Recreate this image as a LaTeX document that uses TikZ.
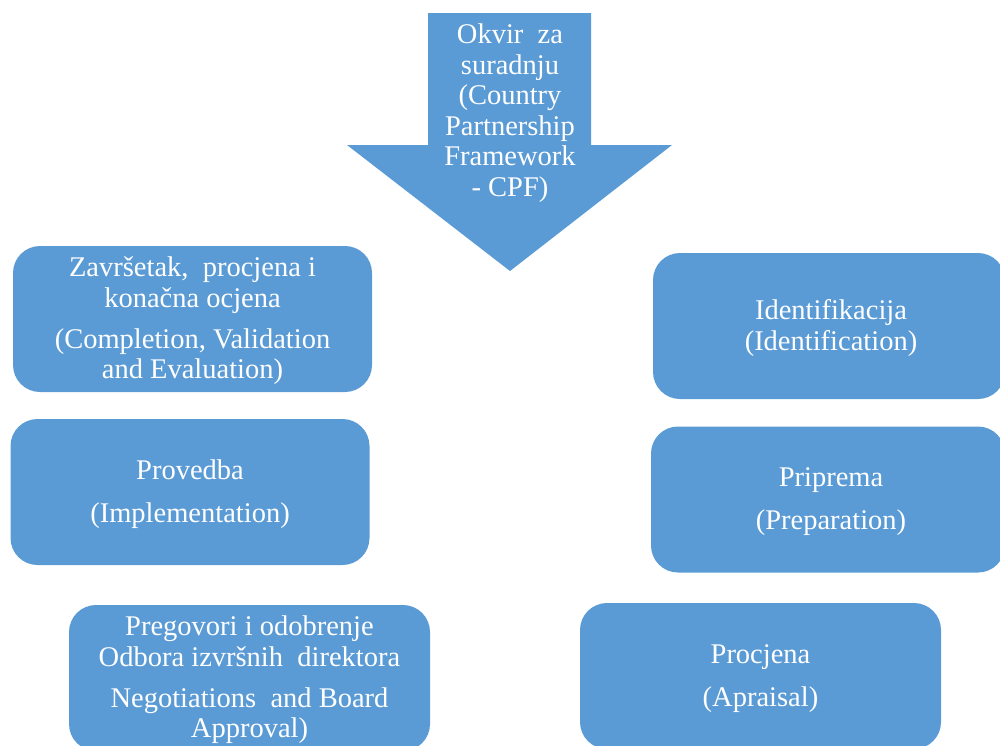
\documentclass[tikz,border=0pt]{standalone}
\usepackage{fontspec}
\setmainfont{Liberation Serif}
\definecolor{boxblue}{HTML}{5B9BD5}
\begin{document}
\begin{tikzpicture}[x=1pt,y=-1pt,
  phase/.style={fill=boxblue, draw=none, rounded corners=27pt, rectangle,
    minimum width=359pt, minimum height=146pt, inner sep=0pt},
  lbl/.style={text=white, align=center, inner sep=0pt,
    font=\fontsize{28.5}{30.5}\selectfont}]
\useasboundingbox (0,0) rectangle (1000,745);
\clip (0,0) rectangle (1000,745);
% big arrow
\fill[boxblue] (428,13) -- (591,13) -- (591,145) -- (672,145) -- (510,271)
  -- (347,145) -- (428,145) -- cycle;
\node[lbl] (cpf) at (510,113) {Okvir\ \ za\\ suradnju\\ (Country\\ Partnership\\ Framework\\ - CPF)};
% left column
\node[phase] (zav) at (192.5,319) {};
\node[lbl] (zavt) at (192.5,321) {Završetak,\ \ procjena i\\ konačna ocjena\\[10.5pt] (Completion, Validation\\ and Evaluation)};
\node[phase] (prov) at (190,492) {};
\node[lbl] (provt) at (190,494) {Provedba\\[12.5pt] (Implementation)};
\node[phase, minimum width=361pt] (preg) at (249.5,678) {};
\node[lbl] (pregt) at (249.5,680) {Pregovori i odobrenje\\ Odbora izvršnih\ \ direktora\\[10.5pt] Negotiations\ \ and Board\\ Approval)};
% right column
\node[phase, minimum width=352pt] (ident) at (829,326) {};
\node[lbl] (identt) at (831,328) {Identifikacija\\ (Identification)};
\node[phase, minimum width=354pt] (prip) at (828,499.5) {};
\node[lbl] (ript) at (831,501.5) {Priprema\\[12.5pt] (Preparation)};
\node[phase, minimum width=361pt] (proc) at (760.5,676) {};
\node[lbl] (proct) at (760.5,678.5) {Procjena\\[12.5pt] (Apraisal)};
\end{tikzpicture}
\end{document}
